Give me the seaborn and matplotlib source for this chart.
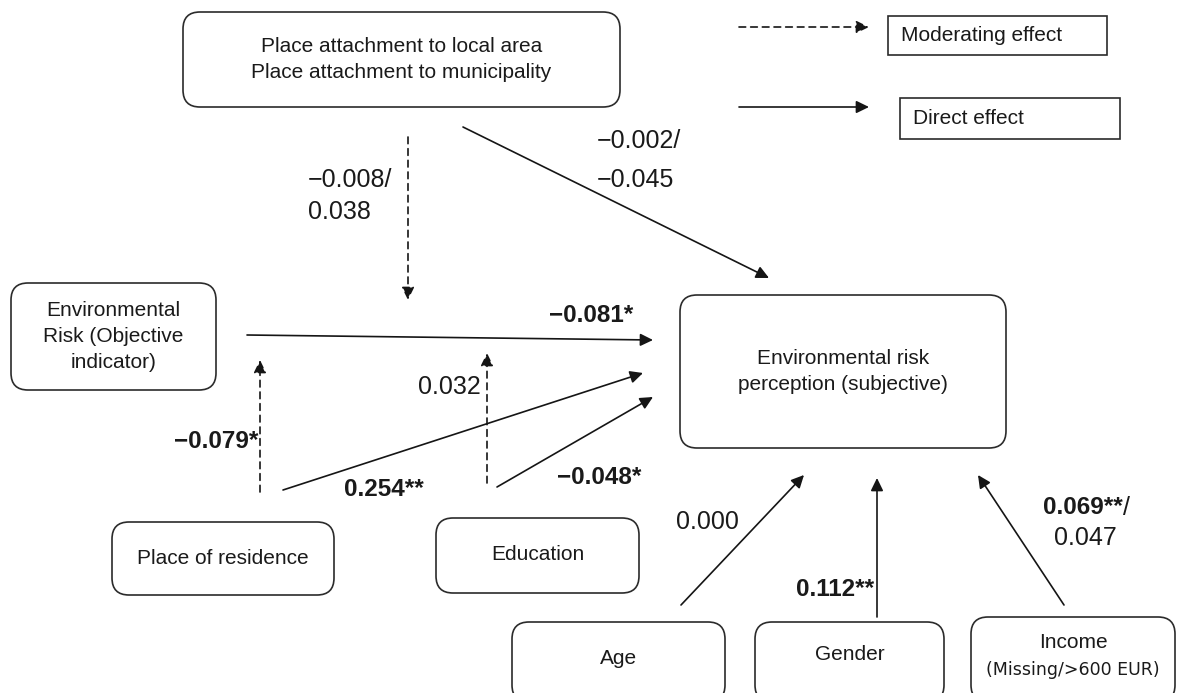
import matplotlib.pyplot as plt
import seaborn as sns
from matplotlib.patches import FancyBboxPatch, Rectangle

sns.set_theme(style='white')
plt.rcParams['font.family'] = ['Liberation Sans', 'DejaVu Sans']

# box labels
box_names = ["attach", "envrisk", "perception", "residence", "education", "age", "gender", "income"]
box_texts = [
    ["Place attachment to local area", "Place attachment to municipality"],
    ["Environmental", "Risk (Objective", "indicator)"],
    ["Environmental risk", "perception (subjective)"],
    ["Place of residence"],
    ["Education"],
    ["Age"],
    ["Gender"],
    ["Income", "(Missing/>600 EUR)"],
]

# path coefficients (text, bold)
coef_labels = ["\u22120.002/", "\u22120.045", "\u22120.008/", "0.038", "\u22120.081*", "\u22120.079*",
               "0.254**", "0.032", "\u22120.048*", "0.000", "0.112**", "0.069**", "0.047"]
coef_bold = [False, False, False, False, True, True, True, False, True, False, True, True, False]

legend_labels = ["Moderating effect", "Direct effect"]

# layout (pixel coords of the figure)
box_xywh = {
    "attach": (183, 12, 437, 95),
    "envrisk": (11, 283, 205, 107),
    "perception": (680, 295, 326, 153),
    "residence": (112, 522, 222, 73),
    "education": (436, 518, 203, 75),
    "age": (512, 622, 213, 80),
    "gender": (755, 622, 189, 80),
    "income": (971, 617, 204, 85),
}
line_y = {
    "attach": [47, 72], "envrisk": [310, 337, 363], "perception": [358, 385],
    "residence": [558], "education": [555], "age": [658], "gender": [655], "income": [642, 670],
}

arrows = [
    ((463, 127), (769, 278), 'solid'),
    ((408, 137), (408, 300), 'dashed'),
    ((247, 335), (653, 340), 'solid'),
    ((260, 492), (260, 360), 'dashed'),
    ((283, 490), (643, 373), 'solid'),
    ((487, 483), (487, 353), 'dashed'),
    ((497, 487), (653, 397), 'solid'),
    ((681, 605), (804, 475), 'solid'),
    ((877, 617), (877, 478), 'solid'),
    ((1064, 605), (978, 475), 'solid'),
    ((739, 27), (869, 27), 'dashed'),
    ((739, 107), (869, 107), 'solid'),
]

coef_pos = [(597, 141, 'left'), (597, 180, 'left'), (308, 180, 'left'), (308, 212, 'left'),
            (591, 315, 'center'), (258, 442, 'right'),
            (384, 490, 'center'), (481, 387, 'right'), (599, 477, 'center'), (707, 522, 'center'),
            (874, 590, 'right'), (1123, 508, 'right'), (1085, 538, 'center')]

fig = plt.figure(figsize=(11.78, 6.93), dpi=100)
ax = fig.add_axes([0, 0, 1, 1])
ax.set_xlim(0, 1178)
ax.set_ylim(693, 0)
ax.axis('off')

ink = '#1a1a1a'
edge = '#2b2b2b'
for name, lines in zip(box_names, box_texts):
    x, y, w, h = box_xywh[name]
    ax.add_patch(FancyBboxPatch((x, y), w, h, boxstyle="round,pad=0,rounding_size=17",
                                fc='white', ec=edge, lw=1.2, zorder=1))
    for i, (t, ty) in enumerate(zip(lines, line_y[name])):
        small = name == "income" and i == 1
        ax.text(x + w / 2, ty, t, ha='center', va='center', fontsize=12.5 if small else 15,
                family=['DejaVu Sans'] if small else ['Liberation Sans', 'DejaVu Sans'],
                color=ink, zorder=2)

for (x0, y0), (x1, y1), ls in arrows:
    ax.annotate("", xy=(x1, y1), xytext=(x0, y0),
                arrowprops=dict(arrowstyle='-|>,head_length=0.45,head_width=0.22', lw=1.2, color='#151515',
                                linestyle=(0, (4, 3)) if ls == 'dashed' else '-',
                                shrinkA=0, shrinkB=0, mutation_scale=17), zorder=3)

for t, b, (x, y, ha) in zip(coef_labels, coef_bold, coef_pos):
    ax.text(x, y, t, ha=ha, va='center', fontsize=18 if not b else 17.5,
            fontweight='bold' if b else 'normal', color=ink, zorder=4)
ax.text(1123, 508, "/", ha='left', va='center', fontsize=18, color=ink)

# legend boxes
legend_boxes = [(888, 16, 219, 39), (900, 98, 220, 41)]
for (x, y, w, h), t in zip(legend_boxes, legend_labels):
    ax.add_patch(Rectangle((x, y), w, h, fc='white', ec=edge, lw=1.2))
    ax.text(x + 13, y + h / 2, t, ha='left', va='center', fontsize=15, color=ink)

plt.savefig("out.png", dpi=100)
plt.close()
